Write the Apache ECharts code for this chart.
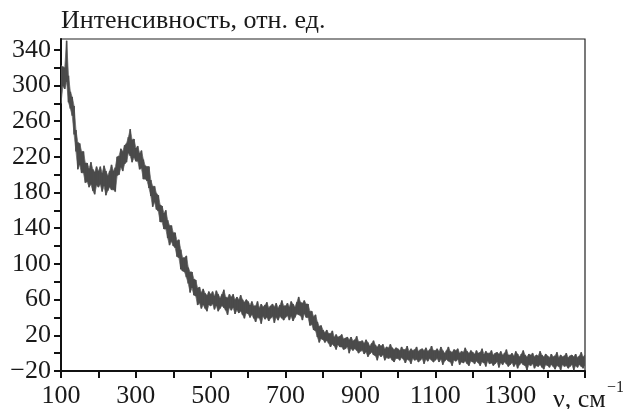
<!DOCTYPE html>
<html>
<head>
<meta charset="utf-8">
<script src="https://cdn.jsdelivr.net/npm/echarts@6/dist/echarts.min.js"></script>
<style>
html,body{margin:0;padding:0;background:#fff;}
#chart{width:623px;height:409px;}
</style>
</head>
<body>
<div id="chart"></div>
<script>
// Wavenumbers, cm^-1 (step 5)
const wavenumbers = [];
for (let v = 100; v <= 1500; v += 5) wavenumbers.push(v);

// Upper and lower edge of the noisy trace at each wavenumber
const upperTrace = [
  // 100-195
  322, 321, 320, 350, 311, 293, 287, 277, 250, 236, 235, 226, 226, 213, 213, 207, 214, 206, 203, 209,
  // 200-295
  204, 209, 202, 210, 204, 199, 204, 211, 204, 208, 220, 221, 229, 226, 233, 235, 242, 251, 239, 240,
  // 300-395
  230, 232, 224, 227, 217, 210, 209, 209, 194, 187, 187, 179, 177, 166, 165, 157, 160, 149, 143, 143,
  // 400-495
  135, 135, 126, 127, 116, 107, 107, 109, 96, 91, 91, 83, 82, 73, 74, 68, 72, 67, 65, 69,
  // 500-595
  66, 69, 64, 70, 66, 62, 66, 71, 63, 62, 66, 63, 66, 60, 63, 60, 65, 60, 57, 60,
  // 600-695
  58, 54, 58, 53, 53, 58, 51, 55, 52, 54, 57, 51, 53, 55, 52, 56, 51, 54, 59, 53,
  // 700-795
  53, 56, 52, 58, 55, 52, 57, 63, 57, 56, 59, 55, 55, 47, 47, 41, 43, 35, 30, 31,
  // 800-895
  26, 23, 26, 22, 22, 25, 18, 21, 18, 19, 21, 16, 17, 18, 15, 18, 14, 15, 19, 13,
  // 900-995
  13, 14, 11, 15, 12, 8, 11, 14, 9, 7, 10, 8, 10, 5, 7, 6, 10, 6, 4, 6,
  // 1000-1095
  5, 3, 7, 4, 4, 8, 2, 5, 3, 4, 7, 2, 4, 5, 3, 6, 2, 4, 8, 3,
  // 1100-1195
  3, 5, 2, 7, 3, 0, 3, 7, 2, 1, 4, 3, 5, 0, 2, 1, 6, 2, 0, 3,
  // 1200-1295
  1, -1, 3, 0, 1, 5, -1, 2, 0, 0, 3, -2, 0, 1, -1, 2, -2, 0, 4, -2,
  // 1300-1395
  -2, 0, -3, 2, -1, -4, -1, 3, -2, -4, -1, -2, 0, -4, -2, -3, 2, -2, -4, -1,
  // 1400-1500
  -3, -5, -1, -4, -3, 1, -5, -2, -4, -3, 0, -5, -3, -2, -4, -1, -5, -3, 1, -4, -2
];
const lowerTrace = [
  // 100-195
  280, 299, 296, 304, 281, 274, 266, 245, 226, 206, 211, 202, 202, 191, 192, 186, 189, 182, 178, 188,
  // 200-295
  186, 189, 181, 187, 177, 182, 186, 183, 183, 181, 199, 200, 208, 204, 212, 214, 224, 221, 214, 219,
  // 300-395
  215, 215, 206, 207, 195, 195, 193, 185, 176, 164, 169, 161, 159, 147, 147, 139, 139, 129, 121, 125,
  // 400-495
  120, 118, 108, 107, 94, 92, 91, 85, 78, 68, 73, 65, 64, 54, 56, 50, 54, 50, 47, 54,
  // 500-595
  53, 55, 49, 53, 47, 50, 53, 51, 48, 43, 51, 48, 51, 44, 48, 45, 47, 43, 39, 45,
  // 600-695
  44, 40, 43, 39, 35, 40, 39, 33, 41, 38, 40, 36, 39, 41, 34, 40, 37, 41, 39, 37,
  // 700-795
  40, 42, 37, 41, 36, 40, 44, 43, 42, 37, 44, 40, 40, 31, 32, 26, 25, 18, 12, 16,
  // 800-895
  15, 12, 14, 11, 7, 10, 8, 4, 9, 7, 7, 4, 5, 7, 0, 5, 3, 5, 3, 0,
  // 900-995
  2, 3, -1, 1, -4, -1, 1, -2, -3, -8, -2, -4, -2, -8, -5, -6, -5, -8, -10, -6,
  // 1000-1095
  -6, -8, -5, -7, -11, -7, -8, -12, -6, -8, -7, -10, -8, -6, -12, -7, -9, -6, -8, -10,
  // 1100-1195
  -8, -6, -10, -7, -13, -9, -7, -9, -10, -14, -8, -9, -7, -13, -10, -11, -9, -12, -14, -9,
  // 1200-1295
  -10, -12, -9, -11, -14, -10, -11, -15, -9, -12, -11, -14, -12, -10, -16, -11, -13, -10, -12, -15,
  // 1300-1395
  -13, -11, -15, -12, -17, -13, -11, -13, -14, -19, -13, -14, -12, -17, -14, -15, -13, -16, -18, -13,
  // 1400-1500
  -14, -16, -13, -15, -18, -14, -15, -19, -13, -15, -14, -17, -15, -13, -19, -14, -16, -13, -15, -17, -14
];

const xTickValues = [100, 200, 300, 400, 500, 600, 700, 800, 900, 1000, 1100, 1200, 1300, 1400, 1500];
const xLabelValues = [100, 300, 500, 700, 900, 1100, 1300];
const yTickValues = [-20, 0, 20, 40, 60, 80, 100, 120, 140, 160, 180, 200, 220, 240, 260, 280, 300, 320, 340];
const yLabelValues = [-20, 20, 60, 100, 140, 180, 220, 260, 300, 340];

const yTitle = 'Интенсивность, отн. ед.';
const xTitle = 'ν, см';
const xTitleSup = '−1';

const FONT = 'Liberation Serif';
const TXT = '#1a1a1a';

const traceRows = wavenumbers.map((x, i) => [x, lowerTrace[i], upperTrace[i]]);

// draw the noisy trace as one band between its lower and upper readings
function renderBand(params, api) {
  if (params.dataIndex !== 0) return null;
  const top = traceRows.map(r => api.coord([r[0], r[2]]));
  const bottom = traceRows.map(r => api.coord([r[0], r[1]])).reverse();
  const cols = [];
  traceRows.forEach(r => {
    const a = api.coord([r[0], r[1]]);
    const b = api.coord([r[0], r[2]]);
    cols.push({type: 'line', shape: {x1: a[0], y1: a[1], x2: b[0], y2: b[1]},
      style: {stroke: '#4a4a4a', lineWidth: 1.6}});
  });
  return {
    type: 'group',
    children: [
      {type: 'polygon', shape: {points: top.concat(bottom)},
        style: {fill: '#505050', stroke: '#6e6e6e', lineWidth: 0.8}}
    ].concat(cols)
  };
}

const chart = echarts.init(document.getElementById('chart'), null, {renderer: 'canvas'});
chart.setOption({
  animation: false,
  backgroundColor: '#fff',
  grid: {left: 61, right: 38, top: 39, bottom: 35, show: true, borderColor: '#222', borderWidth: 1.2, containLabel: false},
  xAxis: {
    type: 'value', min: 100, max: 1500,
    axisLine: {show: true, onZero: false, lineStyle: {color: '#111', width: 2}},
    axisTick: {show: true, customValues: xTickValues, length: 7, inside: false, lineStyle: {color: '#111', width: 2}},
    axisLabel: {customValues: xLabelValues, fontFamily: FONT, fontSize: 26, color: TXT, margin: 12,
      formatter: v => String(v)},
    splitLine: {show: false}
  },
  yAxis: {
    type: 'value', min: -20, max: 352,
    axisLine: {show: true, onZero: false, lineStyle: {color: '#111', width: 2}},
    axisTick: {show: true, customValues: yTickValues, length: 7, inside: false, lineStyle: {color: '#111', width: 2}},
    axisLabel: {customValues: yLabelValues, fontFamily: FONT, fontSize: 26, color: TXT, margin: 10,
      formatter: v => v < 0 ? '−' + Math.abs(v) : String(v)},
    splitLine: {show: false}
  },
  graphic: [
    {type: 'text', left: 61, top: 8, style: {text: yTitle, font: '26px "Liberation Serif"', fill: TXT}},
    {type: 'text', left: 553, top: 387, style: {text: xTitle, font: '26px "Liberation Serif"', fill: TXT}},
    {type: 'text', left: 607, top: 380, style: {text: xTitleSup, font: '16px "Liberation Serif"', fill: TXT}}
  ],
  series: [{
    type: 'custom',
    renderItem: renderBand,
    data: traceRows,
    encode: {x: 0, y: [1, 2]},
    clip: true,
    silent: true
  }]
});
</script>
</body>
</html>
